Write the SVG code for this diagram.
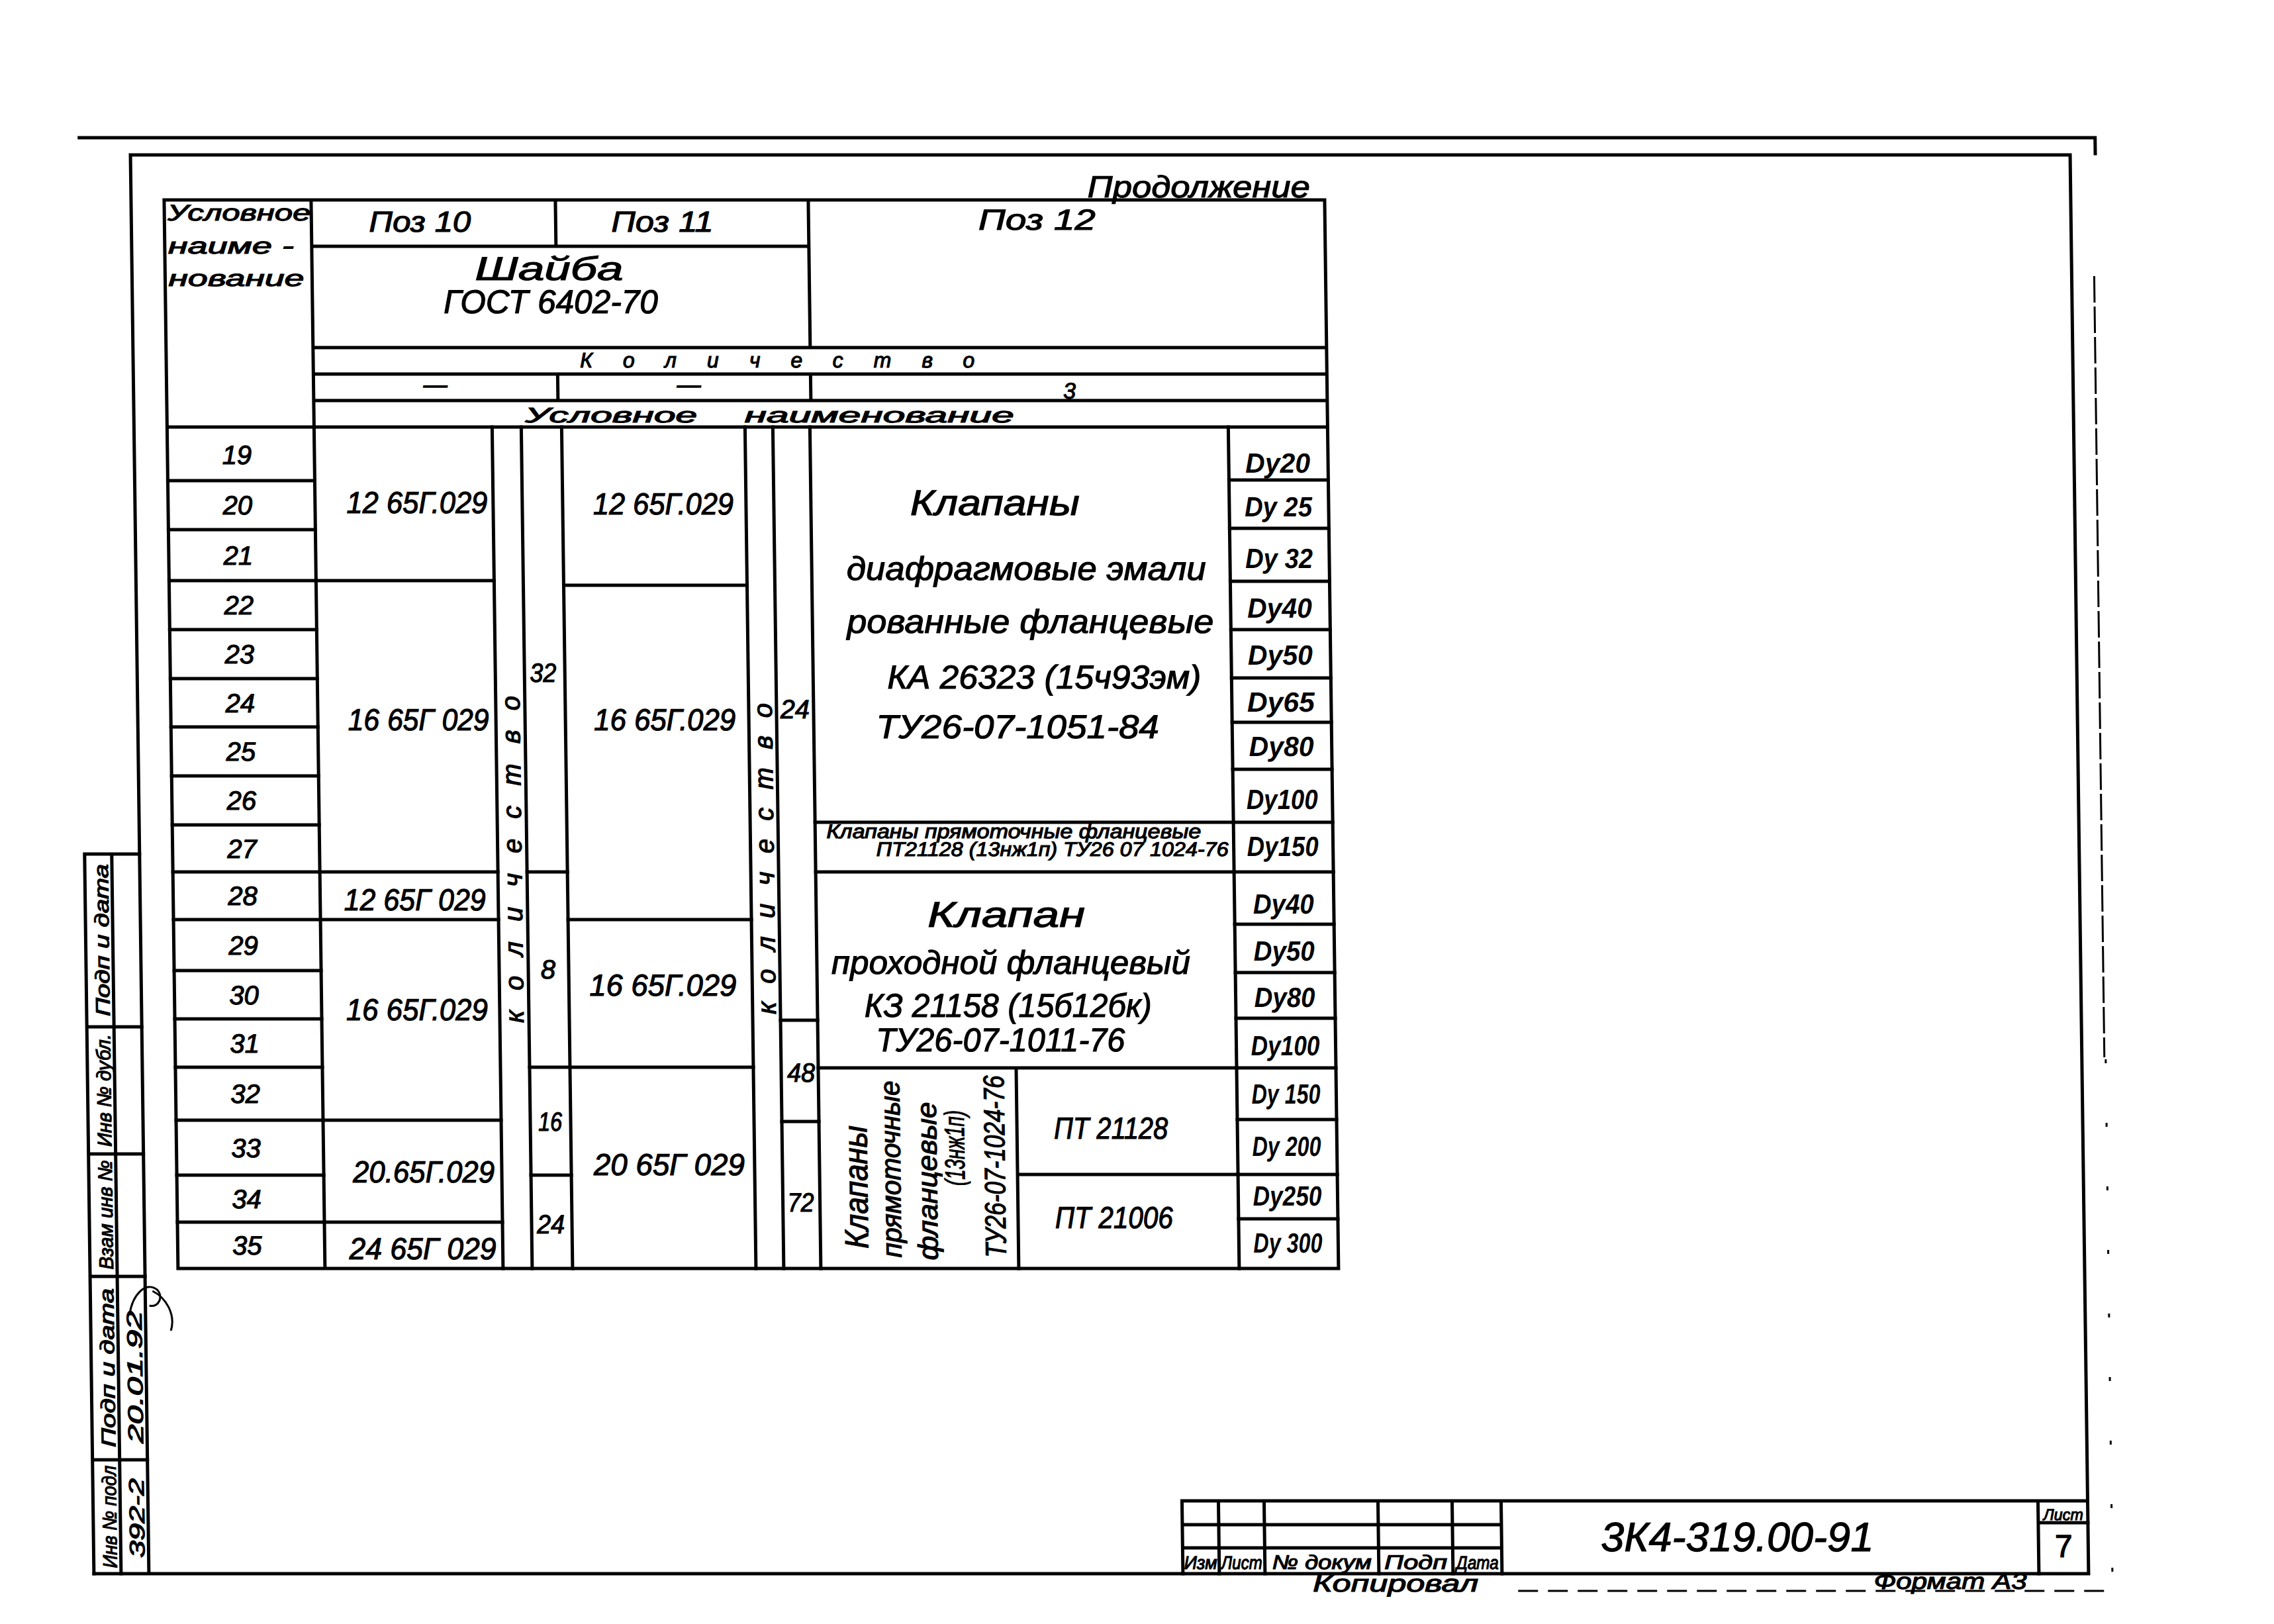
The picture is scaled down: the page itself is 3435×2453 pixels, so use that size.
<svg xmlns="http://www.w3.org/2000/svg" width="3435" height="2453" viewBox="0 0 3435 2453">
<style>
.ln{stroke:#000;stroke-width:5;fill:none;stroke-linecap:square}
.th{stroke:#000;stroke-width:3;fill:none}
.t{font-family:"Liberation Sans","DejaVu Sans",sans-serif;font-style:italic;fill:#000;stroke:#000;stroke-width:1.2}
.c{text-anchor:middle}
.dy{font-family:"Liberation Sans","DejaVu Sans",sans-serif;font-style:italic;font-weight:bold;fill:#000;text-anchor:middle;font-size:42px}
.v{font-size:46px}
.r{font-size:40px}
.b{font-size:50px}
</style>
<rect x="0" y="0" width="3435" height="2453" fill="#fff"/>
<g transform="matrix(1 0 0.013 1 0 0)">
<g id="grid">
<path class="ln" d="M117 208 H3162 V232"/>
<path class="ln" d="M194 234 H3124 V2377 H111 M194 234 V2377"/>
<path class="ln" d="M244 302 H1997 V1916 H244 Z M466 302 V1916 M835 302 V372 M1217 302 V525 M466 372 H1217 M466 525 H1997 M466 565 H1997 M466 605 H1997 M835 565 V605 M1217 565 V605 M244 645 H1997"/>
<path class="ln" d="M244 726 H466 M244 800 H466 M244 877 H466 M244 951 H466 M244 1025 H466 M244 1098 H466 M244 1172 H466 M244 1246 H466 M244 1317 H466 M244 1389 H466 M244 1466 H466 M244 1539 H466 M244 1612 H466 M244 1692 H466 M244 1775 H466 M244 1846 H466"/>
<path class="ln" d="M735 645 V1916 M779 645 V1916 M840 645 V1916 M1117 645 V1916 M1159 645 V1916 M1215 645 V1916 M1847 645 V1916"/>
<path class="ln" d="M466 877 H735 M466 1317 H735 M466 1389 H735 M466 1692 H735 M466 1846 H735 M779 1317 H840 M779 1612 H840 M779 1775 H840 M840 884 H1117 M840 1389 H1117 M840 1612 H1117 M1159 1541 H1215 M1159 1694 H1215"/>
<path class="ln" d="M1215 1242 H1847 M1215 1317 H1847 M1215 1613 H1847 M1514 1613 V1916 M1514 1774 H1847"/>
<path class="ln" d="M1847 725 H1997 M1847 798 H1997 M1847 878 H1997 M1847 951 H1997 M1847 1024 H1997 M1847 1091 H1997 M1847 1162 H1997 M1847 1242 H1997 M1847 1317 H1997 M1847 1396 H1997 M1847 1469 H1997 M1847 1538 H1997 M1847 1613 H1997 M1847 1691 H1997 M1847 1774 H1997 M1847 1841 H1997"/>
<path class="ln" d="M1756 2267 H3124 M1756 2267 V2377 M1811 2267 V2377 M1880 2267 V2377 M2052 2267 V2377 M2164 2267 V2377 M2238 2267 V2377 M3049 2267 V2377 M1756 2303 H2238 M1756 2338 H2238 M3049 2300 H3124"/>
<path class="ln" d="M111 1290 H194 M111 1290 V2377 M152 1290 V2377 M111 1551 H194 M111 1743 H194 M111 1928 H194 M111 2205 H194"/>
<path class="th" d="M3158 417 V1597" stroke-dasharray="40 6"/>
<path class="th" d="M3160 1600 V2450" stroke-dasharray="6 90"/>
<path class="th" d="M2262 2403 H3159" stroke-dasharray="30 15"/>
</g>
<g id="header">
<text class="t c" x="1807" y="298" font-size="46" textLength="336" lengthAdjust="spacingAndGlyphs">Продолжение</text>
<text class="t c" x="357" y="333" font-size="34" textLength="216" lengthAdjust="spacingAndGlyphs">Условное</text>
<text class="t" x="249" y="383" font-size="34" textLength="190" lengthAdjust="spacingAndGlyphs">наиме -</text>
<text class="t" x="249" y="432" font-size="34" textLength="205" lengthAdjust="spacingAndGlyphs">нование</text>
<text class="t c" x="630" y="350" font-size="44" textLength="154" lengthAdjust="spacingAndGlyphs">Поз 10</text>
<text class="t c" x="996" y="350" font-size="44" textLength="154" lengthAdjust="spacingAndGlyphs">Поз 11</text>
<text class="t c" x="1562" y="347" font-size="44" textLength="177" lengthAdjust="spacingAndGlyphs">Поз 12</text>
<text class="t c" x="824" y="423" font-size="50" textLength="224" lengthAdjust="spacingAndGlyphs">Шайба</text>
<text class="t c" x="826" y="473" font-size="50" textLength="324" lengthAdjust="spacingAndGlyphs">ГОСТ 6402-70</text>
<text class="t c" x="1167" y="555" font-size="32" textLength="596" lengthAdjust="spacing">Количество</text>
<text class="t c" x="650" y="593" font-size="36">—</text>
<text class="t c" x="1033" y="593" font-size="36">—</text>
<text class="t c" x="1608" y="602" font-size="34">3</text>
<text class="t c" x="915" y="638" font-size="32" textLength="260" lengthAdjust="spacingAndGlyphs">Условное</text>
<text class="t c" x="1320" y="638" font-size="32" textLength="407" lengthAdjust="spacingAndGlyphs">наименование</text>
</g>
<g id="row-numbers" class="t r">
<text class="c" x="349" y="701">19</text>
<text class="c" x="349" y="777">20</text>
<text class="c" x="349" y="853">21</text>
<text class="c" x="349" y="928">22</text>
<text class="c" x="349" y="1002">23</text>
<text class="c" x="349" y="1076">24</text>
<text class="c" x="349" y="1149">25</text>
<text class="c" x="349" y="1223">26</text>
<text class="c" x="349" y="1296">27</text>
<text class="c" x="349" y="1367">28</text>
<text class="c" x="349" y="1442">29</text>
<text class="c" x="349" y="1517">30</text>
<text class="c" x="349" y="1590">31</text>
<text class="c" x="349" y="1666">32</text>
<text class="c" x="349" y="1748">33</text>
<text class="c" x="349" y="1825">34</text>
<text class="c" x="349" y="1895">35</text>
</g>
<g id="poz10" class="t v">
<text class="c" x="620" y="775" textLength="213" lengthAdjust="spacingAndGlyphs">12 65Г.029</text>
<text class="c" x="618" y="1103" textLength="213" lengthAdjust="spacingAndGlyphs">16 65Г 029</text>
<text class="c" x="609" y="1375" textLength="214" lengthAdjust="spacingAndGlyphs">12 65Г 029</text>
<text class="c" x="610" y="1541" textLength="214" lengthAdjust="spacingAndGlyphs">16 65Г.029</text>
<text class="c" x="617" y="1786" textLength="214" lengthAdjust="spacingAndGlyphs">20.65Г.029</text>
<text class="c" x="614" y="1902" textLength="222" lengthAdjust="spacingAndGlyphs">24 65Г 029</text>
</g>
<g id="count1" class="t">
<text class="c" font-size="40" transform="translate(771 1298) rotate(-90)" textLength="494" lengthAdjust="spacing">количество</text>
<text class="c r" x="807" y="1030" textLength="40" lengthAdjust="spacingAndGlyphs">32</text>
<text class="c r" x="809" y="1478">8</text>
<text class="c r" x="809" y="1708" textLength="36" lengthAdjust="spacingAndGlyphs">16</text>
<text class="c r" x="808" y="1863" textLength="42" lengthAdjust="spacingAndGlyphs">24</text>
</g>
<g id="poz11" class="t v">
<text class="c" x="992" y="777" textLength="212" lengthAdjust="spacingAndGlyphs">12 65Г.029</text>
<text class="c" x="990" y="1103" textLength="214" lengthAdjust="spacingAndGlyphs">16 65Г.029</text>
<text class="c" x="982" y="1504" textLength="222" lengthAdjust="spacingAndGlyphs">16 65Г.029</text>
<text class="c" x="988" y="1775" textLength="228" lengthAdjust="spacingAndGlyphs">20 65Г 029</text>
</g>
<g id="count2" class="t">
<text class="c" font-size="40" transform="translate(1152 1297) rotate(-90)" textLength="470" lengthAdjust="spacing">количество</text>
<text class="c r" x="1187" y="1085" textLength="44" lengthAdjust="spacingAndGlyphs">24</text>
<text class="c r" x="1189" y="1634" textLength="42" lengthAdjust="spacingAndGlyphs">48</text>
<text class="c r" x="1186" y="1830" textLength="40" lengthAdjust="spacingAndGlyphs">72</text>
</g>
<g id="poz12-a" class="t">
<text class="c" x="1493" y="778" font-size="54" textLength="256" lengthAdjust="spacingAndGlyphs">Клапаны</text>
<text class="c b" x="1539" y="876" textLength="543" lengthAdjust="spacingAndGlyphs">диафрагмовые эмали</text>
<text class="c b" x="1544" y="956" textLength="554" lengthAdjust="spacingAndGlyphs">рованные фланцевые</text>
<text class="c b" x="1564" y="1040" textLength="474" lengthAdjust="spacingAndGlyphs">КА 26323 (15ч93эм)</text>
<text class="c b" x="1523" y="1115" textLength="427" lengthAdjust="spacingAndGlyphs">ТУ26-07-1051-84</text>
</g>
<g id="poz12-b" class="t">
<text class="c" x="1515" y="1266" font-size="30" textLength="566" lengthAdjust="spacingAndGlyphs">Клапаны прямоточные фланцевые</text>
<text class="c" x="1573" y="1293" font-size="30" textLength="532" lengthAdjust="spacingAndGlyphs">ПТ21128 (13нж1п) ТУ26 07 1024-76</text>
</g>
<g id="poz12-c" class="t">
<text class="c" x="1502" y="1400" font-size="54" textLength="238" lengthAdjust="spacingAndGlyphs">Клапан</text>
<text class="c b" x="1508" y="1471" textLength="542" lengthAdjust="spacingAndGlyphs">проходной фланцевый</text>
<text class="c b" x="1503" y="1536" textLength="434" lengthAdjust="spacingAndGlyphs">КЗ 21158 (15б12бк)</text>
<text class="c b" x="1491" y="1588" textLength="376" lengthAdjust="spacingAndGlyphs">ТУ26-07-1011-76</text>
</g>
<g id="poz12-d" class="t">
<text class="c" font-size="50" transform="translate(1287 1793) rotate(-90)" textLength="186" lengthAdjust="spacingAndGlyphs">Клапаны</text>
<text class="c" font-size="42" transform="translate(1337 1766) rotate(-90)" textLength="267" lengthAdjust="spacingAndGlyphs">прямоточные</text>
<text class="c" font-size="42" transform="translate(1392 1784) rotate(-90)" textLength="239" lengthAdjust="spacingAndGlyphs">фланцевые</text>
<text class="c" font-size="42" transform="translate(1434 1734) rotate(-90)" textLength="114" lengthAdjust="spacingAndGlyphs">(13нж1п)</text>
<text class="c" font-size="44" transform="translate(1495 1762) rotate(-90)" textLength="275" lengthAdjust="spacingAndGlyphs">ТУ26-07-1024-76</text>
<text class="c v" x="1656" y="1720" textLength="172" lengthAdjust="spacingAndGlyphs">ПТ 21128</text>
<text class="c v" x="1659" y="1855" textLength="178" lengthAdjust="spacingAndGlyphs">ПТ 21006</text>
</g>
<g id="dy">
<text class="dy" x="1921" y="714" textLength="98" lengthAdjust="spacingAndGlyphs">Dy20</text>
<text class="dy" x="1921" y="780" textLength="102" lengthAdjust="spacingAndGlyphs">Dy 25</text>
<text class="dy" x="1921" y="858" textLength="102" lengthAdjust="spacingAndGlyphs">Dy 32</text>
<text class="dy" x="1921" y="933" textLength="98" lengthAdjust="spacingAndGlyphs">Dy40</text>
<text class="dy" x="1921" y="1004" textLength="98" lengthAdjust="spacingAndGlyphs">Dy50</text>
<text class="dy" x="1921" y="1075" textLength="102" lengthAdjust="spacingAndGlyphs">Dy65</text>
<text class="dy" x="1921" y="1142" textLength="98" lengthAdjust="spacingAndGlyphs">Dy80</text>
<text class="dy" x="1921" y="1222" textLength="108" lengthAdjust="spacingAndGlyphs">Dy100</text>
<text class="dy" x="1921" y="1293" textLength="108" lengthAdjust="spacingAndGlyphs">Dy150</text>
<text class="dy" x="1921" y="1380" textLength="92" lengthAdjust="spacingAndGlyphs">Dy40</text>
<text class="dy" x="1921" y="1451" textLength="92" lengthAdjust="spacingAndGlyphs">Dy50</text>
<text class="dy" x="1921" y="1521" textLength="92" lengthAdjust="spacingAndGlyphs">Dy80</text>
<text class="dy" x="1921" y="1594" textLength="104" lengthAdjust="spacingAndGlyphs">Dy100</text>
<text class="dy" x="1921" y="1667" textLength="104" lengthAdjust="spacingAndGlyphs">Dy 150</text>
<text class="dy" x="1921" y="1746" textLength="104" lengthAdjust="spacingAndGlyphs">Dy 200</text>
<text class="dy" x="1921" y="1821" textLength="104" lengthAdjust="spacingAndGlyphs">Dy250</text>
<text class="dy" x="1921" y="1892" textLength="104" lengthAdjust="spacingAndGlyphs">Dy 300</text>
</g>
<g id="title-block" class="t">
<text class="c" x="1783" y="2370" font-size="28" textLength="50" lengthAdjust="spacingAndGlyphs">Изм</text>
<text class="c" x="1845" y="2370" font-size="28" textLength="62" lengthAdjust="spacingAndGlyphs">Лист</text>
<text class="c" x="1966" y="2370" font-size="30" textLength="150" lengthAdjust="spacingAndGlyphs">№ докум</text>
<text class="c" x="2108" y="2370" font-size="30" textLength="95" lengthAdjust="spacingAndGlyphs">Подп</text>
<text class="c" x="2201" y="2370" font-size="28" textLength="64" lengthAdjust="spacingAndGlyphs">Дата</text>
<text class="c" x="2594" y="2343" font-size="62" textLength="412" lengthAdjust="spacingAndGlyphs">3К4-319.00-91</text>
<text class="c" x="3087" y="2296" font-size="24" textLength="60" lengthAdjust="spacingAndGlyphs">Лист</text>
<text class="c" x="3087" y="2352" font-size="48" font-style="normal">7</text>
<text class="c" x="2077" y="2404" font-size="36" textLength="250" lengthAdjust="spacingAndGlyphs">Копировал</text>
<text class="c" x="2915" y="2400" font-size="34" textLength="231" lengthAdjust="spacingAndGlyphs">Формат А3</text>
</g>
<g id="stamp" class="t">
<text class="c" font-size="30" transform="translate(146 1420) rotate(-90)" textLength="230" lengthAdjust="spacingAndGlyphs">Подп и дата</text>
<text class="c" font-size="30" transform="translate(146 1647) rotate(-90)" textLength="170" lengthAdjust="spacingAndGlyphs">Инв № дубл.</text>
<text class="c" font-size="30" transform="translate(146 1835) rotate(-90)" textLength="165" lengthAdjust="spacingAndGlyphs">Взам инв №</text>
<text class="c" font-size="30" transform="translate(146 2066) rotate(-90)" textLength="240" lengthAdjust="spacingAndGlyphs">Подп и дата</text>
<text class="c" font-size="30" transform="translate(146 2291) rotate(-90)" textLength="155" lengthAdjust="spacingAndGlyphs">Инв № подл</text>
<text class="c" font-size="32" transform="translate(188 2080) rotate(-90)" textLength="200" lengthAdjust="spacingAndGlyphs">20.01.92</text>
<text class="c" font-size="32" transform="translate(188 2293) rotate(-90)" textLength="120" lengthAdjust="spacingAndGlyphs">392-2</text>
<path class="th" d="M170 1985 C175 1955 195 1935 212 1948 C222 1958 214 1976 200 1972 M205 1950 C225 1960 240 1985 232 2010"/>
</g>
</g>
</svg>
